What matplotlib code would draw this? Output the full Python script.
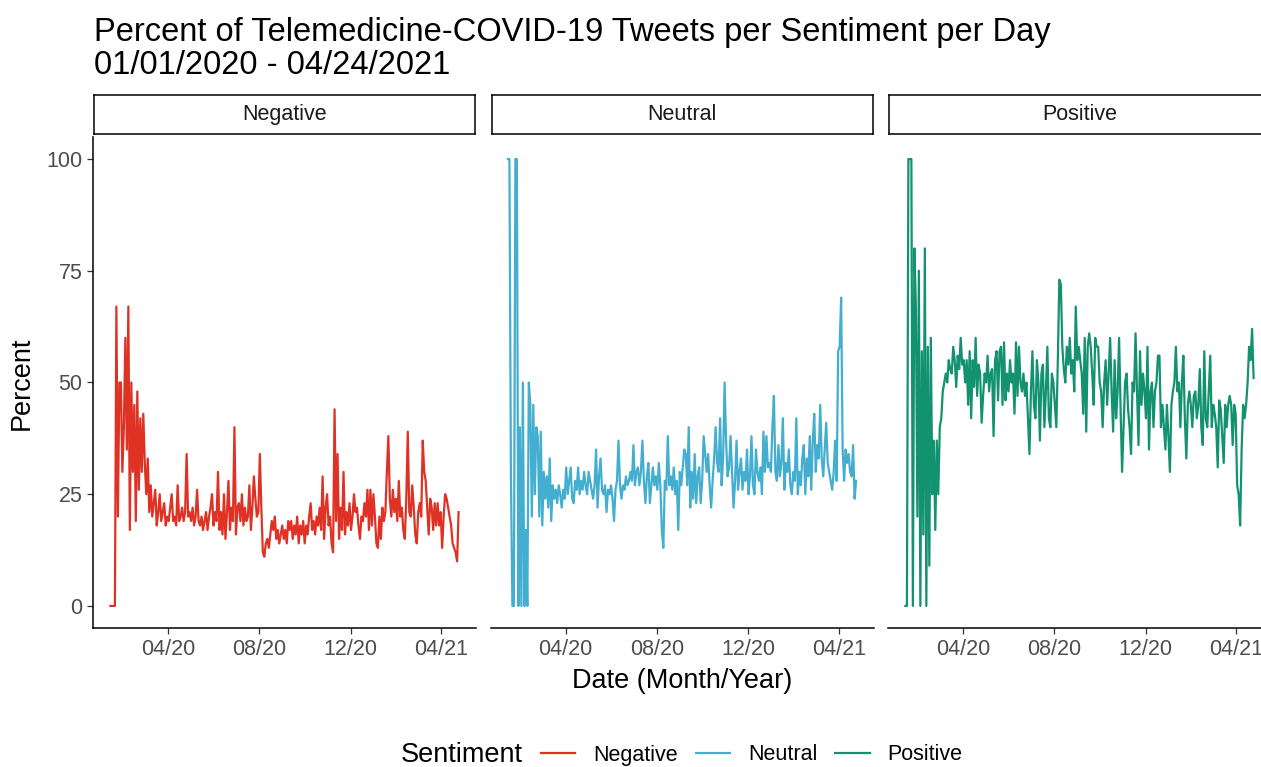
import matplotlib
matplotlib.use('Agg')
import matplotlib.pyplot as plt
import matplotlib.dates as mdates
import pandas as pd

plt.rcParams['font.family'] = ['Liberation Sans', 'DejaVu Sans']

# daily share of tweets per sentiment, every ~2 days
start, end = '2020-01-15', '2021-04-24'

negative = [
    0, 0, 0, 0, 67, 20, 50, 50, 30, 40,
    60, 35, 67, 17, 50, 30, 45, 19, 48, 26,
    42, 30, 43, 32, 25, 33, 21, 27, 20, 23,
    26, 18, 21, 25, 19, 21, 23, 18, 20, 19,
    22, 25, 19, 20, 18, 27, 19, 20, 22, 19,
    21, 34, 20, 21, 19, 22, 18, 20, 26, 19,
    18, 20, 17, 19, 21, 17, 20, 22, 25, 18,
    21, 19, 30, 17, 21, 16, 25, 15, 21, 28,
    17, 22, 19, 40, 16, 22, 23, 19, 25, 18,
    22, 19, 20, 27, 17, 22, 29, 24, 20, 21,
    34, 22, 12, 11, 14, 15, 13, 16, 19, 17,
    20, 15, 17, 14, 16, 18, 15, 17, 14, 19,
    17, 19, 15, 18, 16, 20, 14, 18, 16, 19,
    14, 18, 16, 20, 23, 17, 19, 16, 20, 18,
    22, 17, 29, 15, 22, 25, 18, 20, 14, 12,
    44, 19, 34, 15, 22, 17, 30, 16, 21, 18,
    23, 17, 20, 25, 21, 22, 18, 15, 20, 19,
    23, 20, 26, 17, 26, 18, 25, 20, 14, 13,
    20, 15, 22, 19, 21, 30, 38, 24, 20, 26,
    21, 24, 19, 28, 20, 22, 17, 15, 24, 39,
    21, 20, 27, 22, 16, 14, 21, 23, 20, 37,
    30, 28, 22, 16, 24, 22, 17, 23, 18, 23,
    18, 21, 13, 20, 25, 24, 22, 20, 18, 14,
    13, 12, 10, 21,
]

neutral = [
    100, 100, 30, 0, 0, 100, 100, 0, 40, 0,
    50, 0, 17, 0, 50, 45, 20, 45, 25, 40,
    38, 20, 39, 18, 30, 24, 29, 22, 33, 19,
    27, 24, 26, 23, 27, 25, 22, 26, 24, 31,
    25, 28, 31, 24, 23, 28, 26, 31, 25, 28,
    26, 30, 27, 25, 30, 28, 26, 24, 27, 35,
    22, 29, 33, 26, 25, 27, 21, 26, 25, 27,
    24, 19, 26, 28, 37, 27, 24, 27, 26, 29,
    27, 28, 30, 28, 36, 27, 30, 31, 27, 30,
    37, 28, 23, 29, 32, 23, 27, 31, 27, 29,
    26, 32, 27, 17, 13, 28, 26, 38, 27, 29,
    26, 31, 25, 28, 17, 30, 27, 31, 35, 34,
    27, 40, 22, 30, 24, 34, 23, 29, 31, 23,
    28, 38, 34, 30, 34, 27, 22, 28, 33, 40,
    32, 30, 42, 27, 33, 50, 37, 29, 31, 38,
    30, 22, 28, 37, 26, 30, 33, 26, 30, 28,
    35, 25, 29, 38, 27, 25, 35, 30, 28, 31,
    25, 39, 30, 38, 31, 32, 30, 40, 47, 30,
    28, 36, 29, 32, 42, 26, 32, 30, 35, 27,
    25, 30, 28, 42, 25, 30, 27, 33, 36, 25,
    33, 29, 38, 26, 37, 43, 30, 36, 33, 45,
    33, 29, 35, 41, 32, 30, 28, 26, 30, 37,
    28, 57, 58, 69, 35, 28, 35, 32, 34, 30,
    29, 36, 24, 28,
]

positive = [
    0, 0, 100, 100, 100, 0, 80, 67, 20, 75,
    0, 57, 16, 80, 0, 58, 9, 60, 25, 37,
    17, 37, 25, 40, 42, 48, 50, 52, 50, 55,
    53, 52, 58, 55, 49, 56, 53, 60, 54, 55,
    50, 55, 45, 57, 42, 55, 49, 60, 47, 54,
    52, 41, 47, 52, 50, 56, 48, 52, 53, 38,
    55, 57, 46, 57, 58, 45, 59, 46, 52, 48,
    55, 50, 52, 43, 59, 47, 58, 50, 48, 52,
    47, 50, 42, 34, 48, 57, 45, 42, 55, 50,
    37, 52, 54, 40, 48, 58, 42, 40, 52, 50,
    45, 40, 55, 73, 72, 58, 53, 50, 58, 54,
    60, 52, 55, 48, 67, 55, 58, 55, 52, 43,
    60, 39, 58, 61, 58, 52, 45, 60, 58, 58,
    50, 48, 40, 50, 55, 45, 52, 60, 48, 39,
    55, 42, 48, 60, 44, 30, 40, 50, 52, 44,
    40, 34, 50, 48, 61, 48, 36, 57, 45, 52,
    48, 42, 58, 35, 48, 50, 40, 48, 50, 56,
    56, 40, 45, 40, 35, 45, 38, 30, 45, 48,
    50, 58, 48, 50, 40, 50, 56, 42, 33, 45,
    48, 45, 40, 47, 48, 42, 45, 53, 40, 36,
    57, 42, 40, 48, 56, 40, 45, 43, 40, 31,
    46, 44, 38, 32, 45, 40, 45, 47, 45, 36,
    45, 43, 27, 25, 18, 35, 45, 42, 45, 50,
    58, 55, 62, 51,
]

sentiments = ['Negative', 'Neutral', 'Positive']
y_ticks = [0, 25, 50, 75, 100]
colors = {'Negative': '#DF3124', 'Neutral': '#43AECF', 'Positive': '#13926F'}
series = {'Negative': negative, 'Neutral': neutral, 'Positive': positive}

dates = pd.date_range(start, end, periods=len(negative))
span = dates[-1] - dates[0]
xlim = (dates[0] - span * 0.05, dates[-1] + span * 0.05)

W, H = 1261, 767
fig = plt.figure(figsize=(W / 100, H / 100), dpi=100)


def box(l, t, w, h):
    # pixel box (left, top, width, height) -> figure fraction
    return [l / W, 1 - (t + h) / H, w / W, h / H]


lines = []
for k, name in enumerate(sentiments):
    left = 93 + 397.5 * k
    ax = fig.add_axes(box(left, 136.7, 383, 491.6))
    ln, = ax.plot(dates, series[name], color=colors[name], lw=1.6, label=name)
    lines.append(ln)
    ax.set_xlim(xlim)
    ax.set_ylim(-5, 105)
    ax.xaxis.set_major_locator(mdates.MonthLocator(bymonth=[4, 8, 12]))
    ax.xaxis.set_major_formatter(mdates.DateFormatter('%m/%y'))
    ax.set_yticks(y_ticks)
    for s in ['top', 'right']:
        ax.spines[s].set_visible(False)
    ax.spines['bottom'].set_linewidth(1.1)
    ax.spines['left'].set_linewidth(1.1)
    ax.tick_params(length=4, width=0.9, color='#333333', labelsize=15.5,
                   labelcolor='#4D4D4D', pad=3.5)
    if k > 0:
        ax.spines['left'].set_visible(False)
        ax.tick_params(axis='y', left=False, labelleft=False)

    # facet strip
    sax = fig.add_axes(box(left + 1, 95, 381, 39))
    sax.set_xticks([])
    sax.set_yticks([])
    for sp in sax.spines.values():
        sp.set_linewidth(1.1)
    sax.text(0.5, 0.5, name, ha='center', va='center', fontsize=15.5,
             color='#1A1A1A', transform=sax.transAxes)

fig.text(94 / W, 1 - 41 / H,
         'Percent of Telemedicine-COVID-19 Tweets per Sentiment per Day',
         fontsize=23.5, va='baseline')
fig.text(94 / W, 1 - 74 / H, '01/01/2020 - 04/24/2021',
         fontsize=23.5, va='baseline')
fig.text(682 / W, 1 - 681 / H, 'Date (Month/Year)', fontsize=19.5,
         ha='center', va='center')
fig.text(22 / W, 1 - 383 / H, 'Percent', fontsize=19.5, rotation=90,
         ha='center', va='center')

fig.text(401 / W, 1 - 755 / H, 'Sentiment', fontsize=19.5, va='center')
fig.legend(handles=lines, loc='center left', bbox_to_anchor=(541 / W, 1 - 755 / H),
           ncol=3, frameon=False, fontsize=15.5, handlelength=1.6,
           handletextpad=0.83, columnspacing=0.83, borderpad=0, borderaxespad=0)

fig.savefig('out.png', dpi=100)
